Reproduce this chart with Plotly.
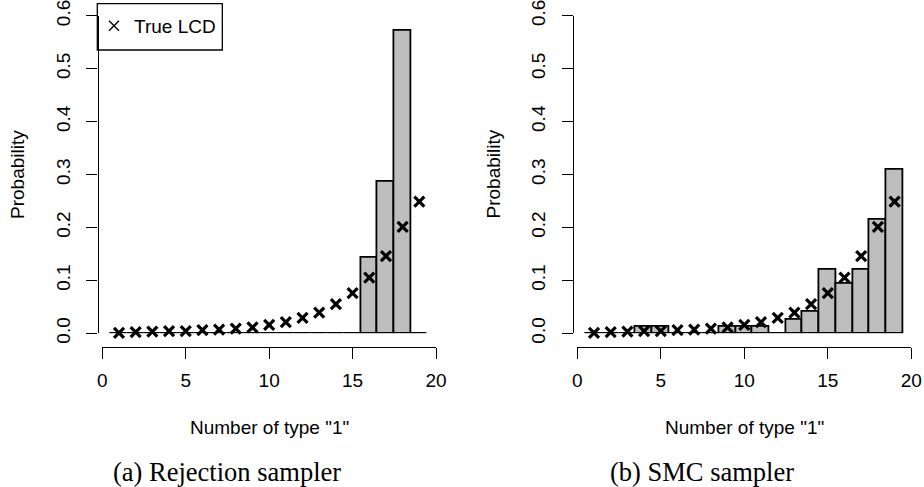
import plotly.graph_objects as go

# ---- data ----
counts = list(range(1, 20))
true_lcd = [0.001, 0.002, 0.003, 0.004, 0.004, 0.006, 0.007, 0.009, 0.011, 0.016,
            0.021, 0.029, 0.039, 0.055, 0.076, 0.105, 0.146, 0.201, 0.249]
rejection = [0, 0, 0, 0, 0, 0, 0, 0, 0, 0, 0, 0, 0, 0, 0, 0.143, 0.286, 0.571, 0]
smc = [0, 0, 0, 0.0125, 0.0125, 0, 0, 0, 0.0125, 0.0125, 0.0125, 0, 0.026, 0.040,
       0.121, 0.093, 0.121, 0.215, 0.310]
x_ticks = [0, 5, 10, 15, 20]
y_ticks = [0.0, 0.1, 0.2, 0.3, 0.4, 0.5, 0.6]
x_title = 'Number of type "1"'
y_title = "Probability"
captions = ["(a) Rejection sampler", "(b) SMC sampler"]
legend_label = "True LCD"

W, H = 924, 487
SANS = "Liberation Sans, Arial, sans-serif"
SERIF = "Liberation Serif, Times New Roman, serif"
FS = 19

def px(x):
    return x / W

def py(y):
    return 1 - y / H

fig = go.Figure()

panels = [
    dict(bars=rejection, xa="x", ya="y", dom=(102.3, 436.0), yline=97.6, ytitle=17.5),
    dict(bars=smc, xa="x2", ya="y2", dom=(577.3, 911.3), yline=572.7, ytitle=493.0),
]

for i, p in enumerate(panels):
    fig.add_trace(go.Bar(
        x=counts, y=p["bars"], width=1,
        marker=dict(color="#BEBEBE", line=dict(color="black", width=1.8)),
        xaxis=p["xa"], yaxis=p["ya"], showlegend=False, cliponaxis=False,
        hoverinfo="x+y",
    ))
    fig.add_trace(go.Scatter(
        x=counts, y=true_lcd, mode="markers",
        marker=dict(symbol="x-thin", size=10, color="black",
                    line=dict(color="black", width=3.2)),
        xaxis=p["xa"], yaxis=p["ya"], showlegend=False, cliponaxis=False,
        name=legend_label,
    ))

# legend-only entry (thin cross as in the reference legend)
fig.add_trace(go.Scatter(
    x=[None], y=[None], mode="markers", name=legend_label,
    marker=dict(symbol="x-thin", size=10, color="black",
                line=dict(color="black", width=1.4)),
    xaxis="x", yaxis="y", showlegend=True,
))

ydom = [py(333.3), py(15.7)]
axis_common = dict(
    showgrid=False, zeroline=False, showline=True, linecolor="black", linewidth=1.3,
    ticks="outside", ticklen=11, tickwidth=1.3, tickcolor="black",
    tickfont=dict(family=SANS, size=FS, color="black"),
    ticklabeloverflow="allow",
)

for i, p in enumerate(panels):
    sfx = "" if i == 0 else str(i + 1)
    fig.update_layout(**{
        "xaxis" + sfx: dict(
            axis_common, domain=[px(p["dom"][0]), px(p["dom"][1])],
            range=[0, 20], tickvals=x_ticks, ticktext=[str(v) for v in x_ticks],
            anchor="free", position=py(347.3), ticklabelstandoff=5,
        ),
        "yaxis" + sfx: dict(
            axis_common, domain=ydom, range=[0, 0.6001],
            tickvals=y_ticks, ticktext=["%.1f" % v for v in y_ticks],
            tickangle=-90, anchor="free", position=px(p["yline"]),
            ticklabelstandoff=9,
        ),
    })
    cx = (p["dom"][0] + p["dom"][1]) / 2
    fig.add_annotation(text=x_title, x=px(cx), y=py(427.7), xref="paper", yref="paper",
                       showarrow=False, font=dict(family=SANS, size=FS, color="black"),
                       xanchor="center", yanchor="middle")
    fig.add_annotation(text=y_title, x=px(p["ytitle"]), y=py(174.5),
                       xref="paper", yref="paper", textangle=-90,
                       showarrow=False, font=dict(family=SANS, size=FS, color="black"),
                       xanchor="center", yanchor="middle")

fig.add_annotation(text=captions[0], x=px(226.7), y=py(471.5), xref="paper", yref="paper",
                   showarrow=False, font=dict(family=SERIF, size=26.5, color="black"),
                   xanchor="center", yanchor="middle")
fig.add_annotation(text=captions[1], x=px(702.0), y=py(471.5), xref="paper", yref="paper",
                   showarrow=False, font=dict(family=SERIF, size=26.5, color="black"),
                   xanchor="center", yanchor="middle")

# legend frame
fig.add_shape(type="rect", xref="paper", yref="paper",
              x0=px(97.3), x1=px(222.3), y0=py(50.0), y1=py(3.7),
              line=dict(color="black", width=1.3), fillcolor="rgba(0,0,0,0)")

fig.update_layout(
    width=W, height=H,
    margin=dict(l=0, r=0, t=0, b=0, autoexpand=False),
    paper_bgcolor="white", plot_bgcolor="white",
    barmode="overlay", bargap=0,
    showlegend=True,
    legend=dict(x=px(94.0), y=py(7.0), xanchor="left", yanchor="top",
                borderwidth=0, bgcolor="rgba(0,0,0,0)",
                font=dict(family=SANS, size=FS, color="black"),
                itemwidth=30, tracegroupgap=0),
)

fig.write_html(
    "out.html",
    config={"displayModeBar": False},
    post_script="document.body.style.margin='0px';document.body.style.overflow='hidden';",
)
